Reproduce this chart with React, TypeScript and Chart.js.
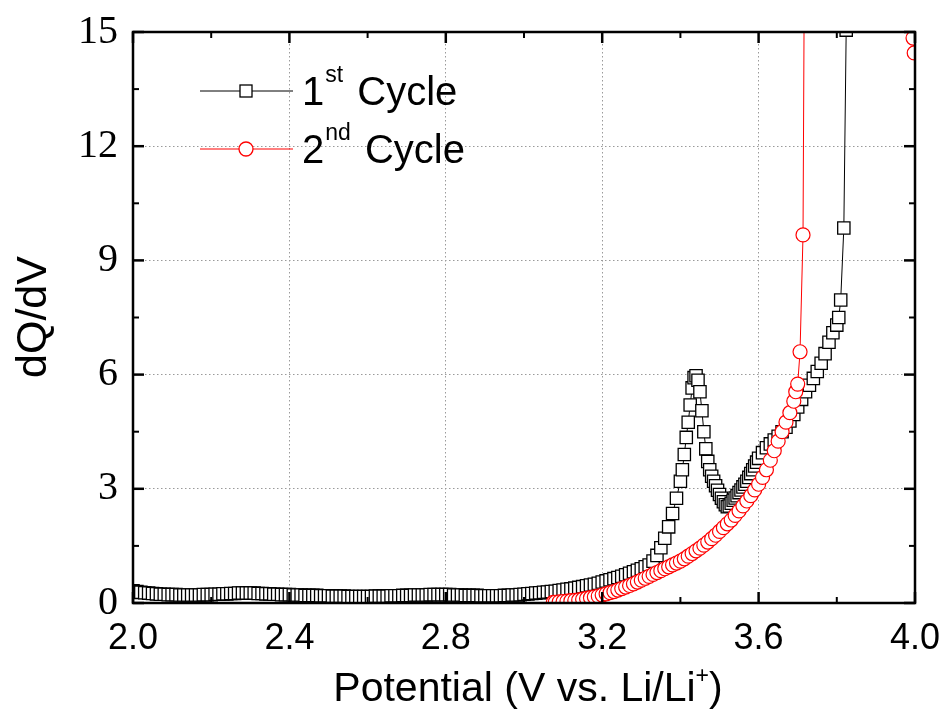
import React, { useEffect, useRef } from 'react';
import { Chart, registerables } from 'chart.js';

Chart.register(...registerables);

// 1st cycle (black squares): potential (V) and dQ/dV
const cycle1V = [
  2.00, 2.01, 2.02, 2.03, 2.04, 2.05, 2.06, 2.07, 2.08, 2.09,
  2.10, 2.11, 2.12, 2.13, 2.14, 2.15, 2.16, 2.17, 2.18, 2.19,
  2.20, 2.21, 2.22, 2.23, 2.24, 2.25, 2.26, 2.27, 2.28, 2.29,
  2.30, 2.31, 2.32, 2.33, 2.34, 2.35, 2.36, 2.37, 2.38, 2.39,
  2.40, 2.41, 2.42, 2.43, 2.44, 2.45, 2.46, 2.47, 2.48, 2.49,
  2.50, 2.51, 2.52, 2.53, 2.54, 2.55, 2.56, 2.57, 2.58, 2.59,
  2.60, 2.61, 2.62, 2.63, 2.64, 2.65, 2.66, 2.67, 2.68, 2.69,
  2.70, 2.71, 2.72, 2.73, 2.74, 2.75, 2.76, 2.77, 2.78, 2.79,
  2.80, 2.81, 2.82, 2.83, 2.84, 2.85, 2.86, 2.87, 2.88, 2.89,
  2.90, 2.91, 2.92, 2.93, 2.94, 2.95, 2.96, 2.97, 2.98, 2.99,
  3.00, 3.01, 3.02, 3.03, 3.04, 3.05, 3.06, 3.07, 3.08, 3.09,
  3.10, 3.11, 3.12, 3.13, 3.14, 3.15, 3.16, 3.17, 3.18, 3.19,
  3.20, 3.21, 3.22, 3.23, 3.24, 3.25, 3.26, 3.27, 3.28, 3.29,
  3.30, 3.31, 3.32, 3.33, 3.34, 3.35, 3.36, 3.37, 3.38, 3.39,
  3.40, 3.405, 3.41, 3.415, 3.42, 3.425, 3.43, 3.435, 3.44, 3.445,
  3.45, 3.455, 3.46, 3.465, 3.47, 3.475, 3.48, 3.485, 3.49, 3.495,
  3.50, 3.505, 3.51, 3.515, 3.52, 3.525, 3.53, 3.535, 3.54, 3.545,
  3.55, 3.555, 3.56, 3.565, 3.57, 3.575, 3.58, 3.585, 3.59, 3.595,
  3.60, 3.61, 3.62, 3.63, 3.64, 3.65, 3.66, 3.67, 3.68, 3.69,
  3.70, 3.71, 3.72, 3.73, 3.74, 3.75, 3.76, 3.77, 3.78, 3.79,
  3.80, 3.805, 3.81, 3.818, 3.824, 3.83,
];
const cycle1Q = [
  0.32, 0.30, 0.28, 0.27, 0.26, 0.25, 0.24, 0.23, 0.23, 0.22,
  0.22, 0.22, 0.21, 0.21, 0.21, 0.21, 0.21, 0.21, 0.22, 0.22,
  0.22, 0.23, 0.23, 0.24, 0.24, 0.25, 0.25, 0.26, 0.26, 0.26,
  0.26, 0.26, 0.25, 0.25, 0.24, 0.24, 0.23, 0.23, 0.22, 0.22,
  0.22, 0.21, 0.21, 0.21, 0.20, 0.20, 0.20, 0.20, 0.19, 0.19,
  0.19, 0.18, 0.18, 0.18, 0.18, 0.17, 0.17, 0.17, 0.17, 0.17,
  0.17, 0.17, 0.18, 0.18, 0.18, 0.18, 0.19, 0.19, 0.19, 0.20,
  0.20, 0.20, 0.21, 0.21, 0.21, 0.21, 0.22, 0.22, 0.22, 0.22,
  0.22, 0.22, 0.21, 0.21, 0.21, 0.20, 0.20, 0.20, 0.20, 0.19,
  0.19, 0.19, 0.19, 0.19, 0.19, 0.20, 0.20, 0.21, 0.21, 0.22,
  0.23, 0.24, 0.25, 0.26, 0.27, 0.28, 0.29, 0.30, 0.31, 0.33,
  0.34, 0.36, 0.37, 0.39, 0.41, 0.43, 0.45, 0.47, 0.49, 0.52,
  0.55, 0.58, 0.61, 0.64, 0.67, 0.70, 0.74, 0.78, 0.82, 0.86,
  0.90, 0.95, 1.00, 1.10, 1.25, 1.45, 1.70, 2.00, 2.35, 2.75,
  3.20, 3.50, 3.90, 4.35, 4.75, 5.20, 5.65, 5.92, 5.97, 5.85,
  5.55, 5.05, 4.50, 4.05, 3.72, 3.50, 3.33, 3.20, 3.08, 2.96,
  2.85, 2.75, 2.66, 2.58, 2.53, 2.55, 2.62, 2.70, 2.76, 2.82,
  2.90, 2.97, 3.05, 3.12, 3.20, 3.30, 3.40, 3.50, 3.60, 3.70,
  3.80, 3.95, 4.08, 4.18, 4.28, 4.38, 4.50, 4.62, 4.78, 4.95,
  5.15, 5.35, 5.55, 5.72, 5.90, 6.08, 6.30, 6.55, 6.85, 7.10,
  7.30, 7.50, 7.96, 9.85, 15.05, 30.0,
];

// 2nd cycle (red circles)
const cycle2V = [
  3.075, 3.08, 3.09, 3.10, 3.11, 3.12, 3.13, 3.14, 3.15, 3.16,
  3.17, 3.18, 3.19, 3.20, 3.21, 3.22, 3.23, 3.24, 3.25, 3.26,
  3.27, 3.28, 3.29, 3.30, 3.31, 3.32, 3.33, 3.34, 3.35, 3.36,
  3.37, 3.38, 3.39, 3.40, 3.41, 3.42, 3.43, 3.44, 3.45, 3.46,
  3.47, 3.48, 3.49, 3.50, 3.51, 3.52, 3.53, 3.54, 3.55, 3.56,
  3.57, 3.58, 3.59, 3.60, 3.61, 3.62, 3.63, 3.64, 3.65, 3.66,
  3.67, 3.68, 3.69, 3.695, 3.70, 3.706, 3.7136, 3.721, 3.96, 3.995,
  3.998,
];
const cycle2Q = [
  0.02, 0.02, 0.03, 0.04, 0.05, 0.06, 0.07, 0.08, 0.10, 0.12,
  0.14, 0.16, 0.18, 0.21, 0.24, 0.27, 0.30, 0.34, 0.38, 0.42,
  0.46, 0.50, 0.55, 0.60, 0.65, 0.70, 0.75, 0.80, 0.85, 0.90,
  0.95, 1.00, 1.05, 1.10, 1.16, 1.23, 1.30, 1.37, 1.44, 1.52,
  1.60, 1.69, 1.78, 1.88, 1.98, 2.08, 2.18, 2.30, 2.42, 2.55,
  2.68, 2.82, 2.97, 3.12, 3.30, 3.50, 3.75, 4.00, 4.25, 4.50,
  4.75, 5.00, 5.30, 5.55, 5.75, 6.60, 9.67, 25.0, 22.0, 14.84,
  14.45,
];

const xTicks = [2.0, 2.4, 2.8, 3.2, 3.6, 4.0];
const xMinorTicks = [2.2, 2.6, 3.0, 3.4, 3.8];
const yTicks = [0, 3, 6, 9, 12, 15];
const yMinorTicks = [1.5, 4.5, 7.5, 10.5, 13.5];

const legendEntries = [
  { main: '1', sup: 'st', rest: 'Cycle' },
  { main: '2', sup: 'nd', rest: 'Cycle' },
];
const xTitleParts = { main: 'Potential (V vs. Li/Li', sup: '+', end: ')' };
const yTitleText = 'dQ/dV';

const SANS = '"Liberation Sans", Arial, sans-serif';
const SERIF = '"Liberation Serif", "Times New Roman", serif';

const decorPlugin = {
  id: 'decor',
  afterDraw(chart: any) {
    const { ctx, chartArea: a } = chart;
    const xs = chart.scales.x;
    const ys = chart.scales.y;
    ctx.save();
    ctx.strokeStyle = '#000';
    ctx.fillStyle = '#000';
    const seg = (x1: number, y1: number, x2: number, y2: number) => {
      ctx.beginPath();
      ctx.moveTo(x1, y1);
      ctx.lineTo(x2, y2);
      ctx.stroke();
    };
    // ticks (inward on all four sides)
    ctx.lineWidth = 2.5;
    xTicks.forEach((v) => {
      const p = xs.getPixelForValue(v);
      seg(p, a.bottom, p, a.bottom - 11);
      seg(p, a.top, p, a.top + 11);
    });
    yTicks.forEach((v) => {
      const p = ys.getPixelForValue(v);
      seg(a.left, p, a.left + 11, p);
      seg(a.right, p, a.right - 11, p);
    });
    ctx.lineWidth = 2;
    xMinorTicks.forEach((v) => {
      const p = xs.getPixelForValue(v);
      seg(p, a.bottom, p, a.bottom - 6);
      seg(p, a.top, p, a.top + 6);
    });
    yMinorTicks.forEach((v) => {
      const p = ys.getPixelForValue(v);
      seg(a.left, p, a.left + 6, p);
      seg(a.right, p, a.right - 6, p);
    });
    // frame
    ctx.lineWidth = 2.5;
    ctx.strokeRect(a.left, a.top, a.right - a.left, a.bottom - a.top);

    // x title with superscript
    ctx.textBaseline = 'alphabetic';
    ctx.textAlign = 'left';
    const titleFont = `41px ${SANS}`;
    const titleSup = `23px ${SANS}`;
    ctx.font = titleFont;
    const w1 = ctx.measureText(xTitleParts.main).width;
    const w3 = ctx.measureText(xTitleParts.end).width;
    ctx.font = titleSup;
    const w2 = ctx.measureText(xTitleParts.sup).width;
    let tx = 528 - (w1 + w2 + w3) / 2;
    const tb = 701;
    ctx.font = titleFont;
    ctx.fillText(xTitleParts.main, tx, tb);
    tx += w1;
    ctx.font = titleSup;
    ctx.fillText(xTitleParts.sup, tx, tb - 18);
    tx += w2;
    ctx.font = titleFont;
    ctx.fillText(xTitleParts.end, tx, tb);

    // y title rotated
    ctx.save();
    ctx.translate(46, 317);
    ctx.rotate(-Math.PI / 2);
    ctx.textAlign = 'center';
    ctx.font = `43px ${SANS}`;
    ctx.fillText(yTitleText, 0, 0);
    ctx.restore();

    // legend
    const mainFont = `40px ${SANS}`;
    const supFont = `23px ${SANS}`;
    const ds = chart.data.datasets;
    legendEntries.forEach((e, i) => {
      const d = ds[i];
      const ly = 91 + i * 58;
      ctx.strokeStyle = d.borderColor;
      ctx.lineWidth = 1;
      seg(200, ly, 293, ly);
      ctx.lineWidth = 1.3;
      ctx.fillStyle = '#fff';
      if (d.pointStyle === 'rect') {
        ctx.fillRect(240, ly - 6, 12, 12);
        ctx.strokeRect(240, ly - 6, 12, 12);
      } else {
        ctx.beginPath();
        ctx.arc(246, ly, 7, 0, Math.PI * 2);
        ctx.fill();
        ctx.stroke();
      }
      ctx.fillStyle = '#000';
      const base = ly + 14;
      let x = 302;
      ctx.font = mainFont;
      ctx.fillText(e.main, x, base);
      x += ctx.measureText(e.main).width + 1;
      ctx.font = supFont;
      ctx.fillText(e.sup, x, base - 23);
      x += ctx.measureText(e.sup).width;
      ctx.font = mainFont;
      x += ctx.measureText(' ').width + 3;
      ctx.fillText(e.rest, x, base);
    });
    ctx.restore();
  },
};

export default function App() {
  const ref = useRef<HTMLCanvasElement | null>(null);
  useEffect(() => {
    if (!ref.current) return;
    const gridColor = (edge: number[]) => (c: any) =>
      edge.includes(c.tick?.value) ? 'rgba(0,0,0,0)' : '#9a9a9a';
    const chart = new Chart(ref.current, {
      type: 'scatter',
      data: {
        datasets: [
          {
            label: '1st Cycle',
            data: cycle1V.map((v, i) => ({ x: v, y: cycle1Q[i] })),
            showLine: true,
            borderColor: '#000',
            borderWidth: 1,
            pointStyle: 'rect',
            pointRadius: 8.7,
            pointBorderWidth: 1.3,
            pointBorderColor: '#000',
            pointBackgroundColor: '#fff',
            order: 2,
          },
          {
            label: '2nd Cycle',
            data: cycle2V.map((v, i) => ({ x: v, y: cycle2Q[i] })),
            showLine: true,
            borderColor: '#ff0000',
            borderWidth: 1,
            pointStyle: 'circle',
            pointRadius: 7,
            pointBorderWidth: 1.2,
            pointBorderColor: '#ff0000',
            pointBackgroundColor: '#fff',
            order: 1,
          },
        ],
      },
      options: {
        animation: false,
        responsive: false,
        events: [],
        layout: { padding: { top: 32, right: 32, left: 0, bottom: 0 } },
        plugins: { legend: { display: false }, tooltip: { enabled: false } },
        scales: {
          x: {
            type: 'linear',
            min: 2,
            max: 4,
            afterBuildTicks: (s: any) => {
              s.ticks = xTicks.map((v) => ({ value: v }));
            },
            afterFit: (s: any) => {
              s.height = 109;
              s.paddingLeft = 0;
              s.paddingRight = 0;
            },
            grid: { color: gridColor([2, 4]), lineWidth: 1, drawTicks: false },
            border: { display: false, dash: [1.5, 2.5] },
            ticks: {
              padding: 14,
              color: '#000',
              font: { family: SANS, size: 36 },
              callback: (v: any) => Number(v).toFixed(1),
              maxRotation: 0,
              autoSkip: false,
            },
          },
          y: {
            type: 'linear',
            min: 0,
            max: 15,
            afterBuildTicks: (s: any) => {
              s.ticks = yTicks.map((v) => ({ value: v }));
            },
            afterFit: (s: any) => {
              s.width = 133;
              s.paddingTop = 0;
              s.paddingBottom = 0;
            },
            grid: { color: gridColor([0, 15]), lineWidth: 1, drawTicks: false },
            border: { display: false, dash: [1.5, 2.5] },
            ticks: {
              padding: 15,
              color: '#000',
              font: { family: SERIF, size: 40 },
              autoSkip: false,
            },
          },
        },
      },
      plugins: [decorPlugin],
    });
    return () => chart.destroy();
  }, []);
  return (
    <div style={{ position: 'fixed', left: 0, top: 0, width: 947, height: 712, background: '#fff' }}>
      <canvas ref={ref} width={947} height={712} style={{ width: 947, height: 712, display: 'block' }} />
    </div>
  );
}
